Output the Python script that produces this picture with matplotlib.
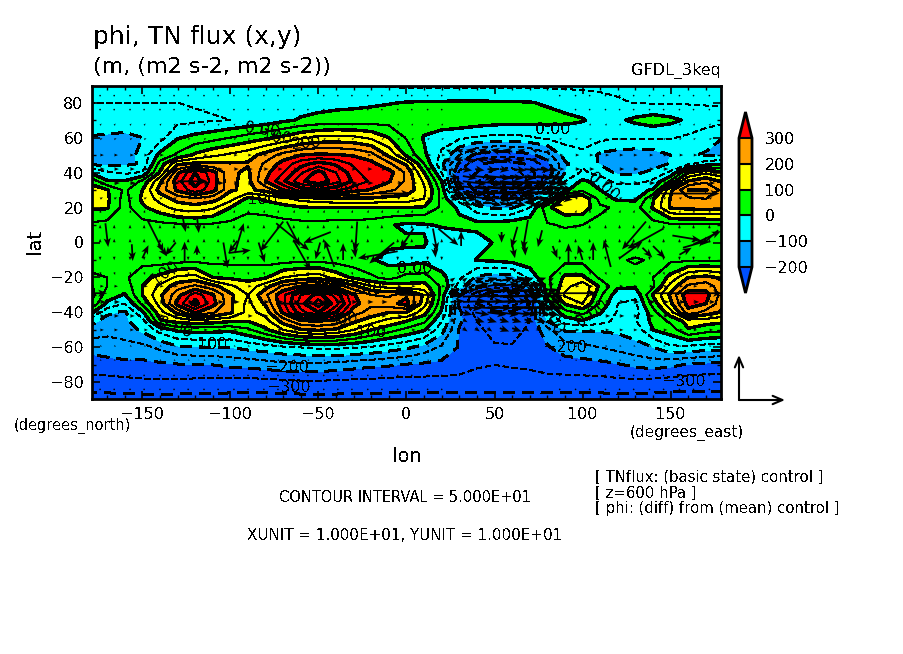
import matplotlib
matplotlib.use("Agg")
import matplotlib.pyplot as plt
import numpy as np

plt.rcParams['font.family'] = ['DejaVu Sans']
plt.rcParams['text.antialiased'] = False

W, H = 904, 654

# grid of the field (10 deg lon, 5 or 10 deg lat)
lons = [-180, -170, -160, -150, -140, -130, -120, -110, -100, -90,
        -80, -70, -60, -50, -40, -30, -20, -10, 0, 10,
        20, 30, 40, 50, 60, 70, 80, 90, 100, 110,
        120, 130, 140, 150, 160, 170, 180]
lats = [90, 80, 70, 60, 50, 45, 40, 35, 30, 25, 20, 10, 0, -10, -20, -25, -30, -35, -40, -45, -50, -60, -70, -80, -90]

phi = [
    [-45, -45, -45, -45, -45, -45, -45, -45, -45, -45, -45, -45, -45, -50, -50, -50, -50, -55, -60, -60,
     -60, -60, -60, -60, -60, -60, -60, -60, -60, -60, -60, -60, -60, -60, -60, -60, -60],
    [-50, -50, -50, -50, -50, -50, -45, -40, -35, -30, -28, -25, -22, -20, -15, -12, -8, -3, 2, 4,
     5, 6, 6, 5, 4, 2, -5, -15, -25, -35, -45, -52, -55, -55, -55, -55, -55],
    [-55, -60, -65, -65, -60, -65, -60, -55, -50, -40, -30, -10, 5, 15, 20, 22, 25, 28, 30, 35,
     38, 35, 30, 25, 20, 18, 15, 10, 3, -15, -8, 10, 25, 12, -8, -25, -35],
    [-105, -110, -115, -100, -70, -5, 15, 30, 50, 70, 90, 110, 140, 160, 165, 160, 140, 100, 45, -5,
     -30, -40, -55, -65, -65, -55, -40, -30, -30, -35, -45, -45, -45, -45, -60, -80, -100],
    [-130, -135, -130, -80, 15, 60, 110, 140, 160, 180, 220, 270, 300, 310, 305, 295, 270, 190, 90, 10,
     -60, -150, -215, -235, -230, -215, -170, -80, -60, -110, -125, -130, -125, -100, -95, -105, -105],
    [-110, -115, -110, -95, 70, 190, 210, 210, 205, 205, 260, 320, 380, 420, 390, 340, 315, 260, 190, 50,
     -90, -210, -290, -320, -320, -290, -220, -110, -60, -105, -130, -130, -125, -95, -60, -25, -5],
    [0, -40, -60, -45, 105, 290, 400, 320, 210, 190, 285, 350, 440, 520, 450, 370, 310, 320, 240, 100,
     -50, -260, -300, -370, -380, -320, -240, -100, -40, -70, -110, -110, -85, -40, 100, 140, 110],
    [90, 5, 5, 60, 190, 330, 430, 330, 210, 185, 300, 390, 490, 540, 470, 390, 340, 305, 240, 140,
     0, -270, -340, -420, -420, -340, -200, -50, 10, -20, -70, -70, -40, 60, 205, 240, 190],
    [120, 105, 40, 100, 220, 310, 380, 320, 205, 190, 215, 300, 370, 390, 360, 320, 295, 260, 230, 160,
     30, -220, -320, -370, -340, -260, -120, -10, 40, 0, -15, -15, 5, 190, 300, 305, 230],
    [125, 110, 30, 110, 170, 220, 240, 220, 170, 85, 110, 130, 170, 180, 190, 190, 190, 180, 180, 150,
     30, -80, -180, -220, -200, -130, -40, 120, 145, 30, -10, -10, 95, 205, 240, 250, 220],
    [110, 105, 30, 90, 130, 170, 180, 160, 100, 60, 70, 85, 95, 100, 100, 100, 100, 100, 100, 95,
     40, -10, -80, -110, -105, -50, 90, 135, 130, 60, 40, 30, 105, 205, 215, 220, 220],
    [40, 30, 25, 30, 35, 40, 45, 40, 35, 30, 25, 30, 35, 35, 30, 30, 25, 5, -10, -5,
     5, 15, 20, 25, 35, 40, 45, 55, 50, 35, 25, 25, 30, 40, 40, 40, 40],
    [20, 20, 25, 25, 20, 20, 25, 25, 20, 20, 20, 20, 20, 25, 25, 25, 20, 10, 10, 5,
     -30, -40, -30, 5, 15, 20, 20, 25, 25, 25, 25, 20, 20, 25, 25, 20, 20],
    [30, 30, 30, 30, 25, 30, 35, 35, 35, 35, 30, 30, 35, 35, 30, 20, 5, -15, -25, -15,
     -30, -30, 3, 10, 20, 25, 30, 35, 35, 40, 45, 55, 45, 40, 40, 40, 40],
    [60, 50, 40, 85, 115, 160, 170, 100, 90, 85, 95, 150, 170, 180, 130, 90, 60, 30, 70, 70,
     15, -40, -110, -130, -120, -30, 40, 110, 110, 40, 30, 35, 50, 115, 200, 215, 190],
    [110, 50, 20, 100, 160, 230, 260, 220, 160, 120, 180, 260, 300, 320, 280, 215, 150, 130, 115, 120,
     40, -70, -180, -220, -220, -160, 30, 130, 190, 90, 10, 10, 40, 170, 260, 280, 215],
    [125, 25, -5, 100, 190, 280, 380, 305, 210, 150, 240, 340, 450, 520, 430, 305, 250, 240, 290, 190,
     30, -200, -280, -350, -340, -280, 30, 160, 190, 60, -30, -40, 105, 210, 340, 320, 220],
    [100, -10, -50, 60, 170, 320, 420, 320, 210, 135, 210, 340, 480, 580, 470, 320, 260, 280, 320, 170,
     15, -210, -300, -380, -370, -300, -30, 105, 150, 40, -50, -60, 70, 190, 320, 300, 210],
    [20, -90, -110, -10, 130, 215, 305, 255, 210, 130, 170, 310, 430, 500, 400, 270, 230, 200, 200, 120,
     -10, -190, -270, -295, -290, -270, -60, 30, 65, 5, -55, -70, 30, 130, 280, 230, 190],
    [-80, -120, -110, -70, 90, 115, 130, 120, 105, 100, 130, 220, 290, 300, 280, 210, 170, 130, 100, 60,
     -50, -190, -250, -280, -280, -250, -100, -30, -5, -30, -65, -55, 15, 60, 120, 120, 110],
    [-115, -135, -130, -90, -30, 10, 20, 15, 10, 40, 90, 150, 195, 205, 190, 150, 100, 70, 35, 5,
     -80, -205, -240, -265, -270, -240, -170, -95, -95, -95, -90, -80, 0, 25, 95, 70, 60],
    [-185, -175, -165, -165, -140, -110, -105, -100, -100, -85, -75, -60, -50, -40, -40, -45, -55, -75, -90, -120,
     -160, -205, -230, -245, -245, -225, -205, -175, -165, -150, -135, -115, -100, -60, -65, -75, -80],
    [-225, -220, -215, -215, -210, -205, -200, -200, -190, -185, -175, -165, -165, -165, -170, -180, -190, -195, -205, -210,
     -215, -225, -245, -250, -245, -240, -230, -225, -220, -215, -205, -190, -180, -190, -205, -215, -220],
    [-270, -270, -265, -260, -260, -260, -265, -265, -270, -270, -270, -265, -260, -260, -260, -265, -265, -270, -270, -270,
     -270, -270, -270, -270, -275, -275, -270, -270, -270, -270, -265, -265, -270, -275, -280, -280, -280],
    [-320, -320, -320, -320, -320, -320, -320, -320, -320, -320, -320, -320, -320, -320, -320, -320, -320, -320, -320, -320,
     -320, -320, -320, -320, -320, -320, -320, -320, -320, -320, -320, -320, -320, -320, -320, -320, -320],
]

fill_levels = [-200, -100, 0, 100, 200, 300]
fill_colors = ['#0050ff', '#00a0ff', '#00ffff', '#00ff00', '#ffff00', '#ffa000', '#ff0000']
line_levels = [-400, -350, -300, -250, -200, -150, -100, -50, 0, 50, 100, 150, 200, 250, 300, 350, 400, 450, 500, 550]

# the big arrows, lon / lat / u / v
arrow_lon = [-147, -171, -127, -119, -97.5, -156, -150, -141, -131, -126, -119, -104, -96, -101, -84,
             -70, -74, -68, -43, -64, -49, -41, -28, -36, -30, -5, -7, -1, 4, 15, 18, 31, 63, 69, 77, 54,
             136, 146, 151, 177, 163, 60, 67, 83, 92, 100, 106, 116, 121, 140, 134, 157, 155, 16,
             77, 140, -178, 60, 142, -130, -15, -72, -4]
arrow_lat = [12.6, 11, 14, 15, -6, -1, -9, -1, 0, -11, -7, 0, 1, -6, 0,
             12, 11, 12, 6, 1, 0, -14, 12, -10, 0, -5, 0, 1, 8, 8, 8, -2, 9, 13, 7, 6,
             12, 8, 4, 7, -1, -1, 0, -2, -12, -10, -10, -14, -9, -2, -3, -3, -7, -3,
             -29, -29, -29, -37, 28, 35, 28, -35, -30]
arrow_u = [3.4, 0.6, 0.6, 0.4, 1.9, 0.2, 1.3, 1.9, -2.3, 0, 0, 0.9, -1.9, 4.7, 1.3,
           -4.9, 7, 2.8, -5.8, 3.6, -1, -2.1, -0.4, 0, 0.4, -8.5, -5.3, -0.6, -2.8, 0.9, 4.3, 0, -1.3, -1.1, -0.9, 0,
           -5.1, -7.7, 6, -3.6, 5.8, 0.6, 0.2, 1, 0, -1, 0, -1.5, 4.9, 2.6, 2.1, 5.1, 2.6, 0.2,
           11.7, 14.7, 3, 10, 13.4, 6.4, 6.4, 11, 8]
arrow_v = [-6.8, -5.1, -3, -3.6, 6.4, -3.6, 2.8, -2.6, -2.8, 4.3, 2.1, -5.5, -2.6, 0.6, -4.3,
           -6.4, -5.8, -5.3, -2.3, -6.4, -3.6, 5.8, -6.4, 3.6, -3.2, -1.5, -4.5, -2.1, -4.3, -4.9, -3.6, 3.2, -4.5, -6.4, -3.6, -2.3,
           -6, -4.3, -1, -3.2, 2.8, -3, -2.8, -2.6, 4.3, 3.2, 3.8, 5.8, 3.6, -2.6, -2.1, 1.5, 1.5, -2.1,
           0, 0, 0, 0, 0, 0, 0, 0, 0]

# dense packs of flux arrows over the two lows
dense_lons = [25, 32, 39, 46, 53, 60, 67, 74, 81]
north_lats = [52, 47, 42, 38, 35, 32, 29, 26, 23]
north_u = [[-1, -1.5, -2, -2, -2, -2, -1.5, -1, -0.5],
           [-1.5, -2, -2.5, -2.5, -2.5, -2, -2, -1.5, -1],
           [1, 2, 2, 2, 2, 3, 3, 3, 2],
           [2, 3, 4, 5, 5, 5, 6, 5, 3],
           [3, 5, 6, 7, 7, 7, 7, 6, 4],
           [3, 6, 7, 8, 8, 8, 8, 7, 5],
           [3, 5, 8, 10, 12, 12, 12, 10, 7],
           [2, 3, 4, 5, 5, 5, 5, 5, 5],
           [1, 2, 2, 3, 3, 3, 3, 3, 3]]
north_v = [0.4, 0.3, -0.3, -0.5, -0.6, -0.6, -0.5, -0.6, -0.7]
south_lats = [-22, -25, -28, -31, -34, -37, -40, -44, -49]
south_u = [[1, 1, 2, 2, 3, 3, 2, 2, 1],
           [1, 2, 3, 3, 4, 4, 3, 2, 1],
           [2, 3, 4, 5, 5, 5, 4, 3, 2],
           [3, 5, 5, 6, 7, 7, 6, 5, 3],
           [3, 5, 6, 6, 6, 6, 6, 5, 3],
           [2, 4, 5, 5, 5, 5, 5, 4, 3],
           [1, 2, 3, 4, 4, 4, 3, 3, 2],
           [1, 1, 2, 2, 2, 2, 2, 2, 1],
           [0, 1, 1, 1, 2, 2, 1, 1, 0]]
south_v = [0.7, 0.6, 0.5, 0.3, 0.2, -0.3, -0.5, -0.6, -0.7]

# the small arrows, one zonal and meridional value per row
small_lons = [-174, -166, -157, -149, -140, -132, -124, -115, -107, -98, -90, -81, -73, -64, -56, -47, -39, -31, -22, -14, -5,
              3, 12, 20, 87, 96, 104, 113, 121, 129, 138, 146, 155, 163, 172]
small_lats = [84, 76, 67, 59, 50, 42, 34, 25, 17, 8, 0, -8, -17, -25, -34, -42, -50, -59, -67, -76, -84]
small_u = [0.2, 0.2, 0.3, 0.5, 0.8, 1, 1.2, 0.6, 0.2, 0, 0, 0, 0.2, 0.8, 1.2, 1, 0.8, 0.4, 0.3, 0.2, 0.2]
small_v = [0.2, 0.3, 0.4, 0.2, 0, 0, 0, 0.3, 0.6, 0.8, 0.8, -0.8, -0.6, 0, 0, 0, 0, -0.2, -0.3, -0.3, -0.2]

# contour labels, placed in pixels
label_text = ['0.00', '100', '200', '300', '100', '0.00', '0.00', '100', '200', '300', '100', '0.00',
              '100', '\u2212200', '\u2212300', '0.00', '0.00', '0.00', '\u2212200', '\u2212300']
label_x = [262, 277, 307, 345, 263, 553, 603, 165, 368, 343, 372, 175, 213, 287, 289, 415, 592, 551, 565, 684]
label_y = [130, 138, 143, 192, 200, 130, 187, 273, 290, 320, 333, 328, 345, 367, 388, 268, 313, 318, 347, 382]
label_rot = [-8, -8, 5, 5, 0, 0, -40, 35, 0, 5, 0, -20, 0, 0, 0, 0, 35, -60, 0, 0]

note_lines = ['[ TNflux: (basic state) control ]', '[ z=600 hPa ]', '[ phi: (diff) from (mean) control ]']
note_y = [477, 493, 509]

x_ticks = [-150, -100, -50, 0, 50, 100, 150]
y_ticks = [-80, -60, -40, -20, 0, 20, 40, 60, 80]


def put_text(x, y, s, **kw):
    # place text by picture pixels, y counted from the top
    kw.setdefault('ha', 'center')
    kw.setdefault('va', 'center')
    return fig.text(x / W, 1 - y / H, s, **kw)


fig = plt.figure(figsize=(W / 100, H / 100), dpi=100, facecolor='white')
ax = fig.add_axes([92 / W, 1 - 399 / H, 629 / W, 313 / H])

field = np.array(phi, dtype=float)
cf = ax.contourf(lons, lats, field, levels=fill_levels, colors=fill_colors, extend='both', antialiased=False)
widths = [1.7 if lev % 100 == 0 else 0.8 for lev in line_levels]
styles = [(0, (5, 3)) if lev < 0 else 'solid' for lev in line_levels]
ax.contour(lons, lats, field, levels=line_levels, colors='k', linewidths=widths, linestyles=styles, antialiased=False)

qkw = dict(angles='xy', scale_units='xy', scale=0.375, units='dots', width=1.8,
           headwidth=4, headlength=5, headaxislength=4, color='k')
ax.quiver(arrow_lon, arrow_lat, arrow_u, arrow_v, **qkw)

dx, dy = np.meshgrid(dense_lons, north_lats)
nv = np.array(north_v)[:, None] * np.ones(len(dense_lons))
ax.quiver(dx, dy, np.array(north_u), nv, **qkw)
dx, dy = np.meshgrid(dense_lons, south_lats)
sv = np.array(south_v)[:, None] * np.ones(len(dense_lons))
ax.quiver(dx, dy, np.array(south_u), sv, **qkw)

sx, sy = np.meshgrid(small_lons, small_lats)
su = np.array(small_u)[:, None] * np.ones(len(small_lons))
sw = np.array(small_v)[:, None] * np.ones(len(small_lons))
ax.quiver(sx, sy, su, sw, **qkw)

ax.set_xlim(-178.6, 178.6)
ax.set_ylim(-89.5, 89.5)
ax.set_xticks(x_ticks)
ax.set_yticks(y_ticks)
ax.set_xticks(np.arange(-170, 180, 10), minor=True)
ax.set_yticks(np.arange(-80, 90, 10), minor=True)
ax.tick_params(which='major', direction='in', top=True, right=True, length=6, width=1.2, labelsize=11.5, pad=6)
ax.tick_params(which='minor', direction='in', top=True, right=True, length=3, width=1)
for side in ax.spines.values():
    side.set_linewidth(2)
ax.set_axisbelow(False)

# colour bar with the pointed ends
cax = fig.add_axes([739 / W, 1 - 293 / H, 13 / W, 181 / H])
cb = fig.colorbar(cf, cax=cax, extend='both', extendfrac=26 / 129, drawedges=True)
cb.set_ticks(fill_levels)
cb.ax.tick_params(length=0, labelsize=11.5, pad=9)
cb.outline.set_linewidth(2)
cb.dividers.set_linewidth(1.5)
cb.dividers.set_color('k')

for s, x, y, r in zip(label_text, label_x, label_y, label_rot):
    put_text(x, y, s, fontsize=11.5, rotation=r, color='k')

put_text(93, 37, 'phi, TN flux (x,y)', fontsize=18, ha='left')
put_text(93, 67, '(m, (m2 s-2, m2 s-2))', fontsize=16, ha='left')
put_text(721, 71, 'GFDL_3keq', fontsize=11.5, ha='right')
put_text(35, 241, 'lat', fontsize=14, rotation=90)
put_text(407, 457, 'lon', fontsize=14)
put_text(72, 426, '(degrees_north)', fontsize=10.5)
put_text(687, 433, '(degrees_east)', fontsize=11)
put_text(405, 497, 'CONTOUR INTERVAL = 5.000E+01', fontsize=10.5)
put_text(405, 535, 'XUNIT = 1.000E+01, YUNIT = 1.000E+01', fontsize=10.9)
for s, y in zip(note_lines, note_y):
    put_text(595, y, s, fontsize=10.7, ha='left')

# reference arrows beside the map
for tip in [(739, 355), (785, 400)]:
    ax.annotate('', xy=(tip[0], H - tip[1]), xytext=(739, H - 400), xycoords='figure pixels',
                textcoords='figure pixels', annotation_clip=False,
                arrowprops=dict(arrowstyle='->,head_length=0.7,head_width=0.3', color='k', lw=1.5,
                                shrinkA=0, shrinkB=0))

fig.savefig('out.png', dpi=100)
